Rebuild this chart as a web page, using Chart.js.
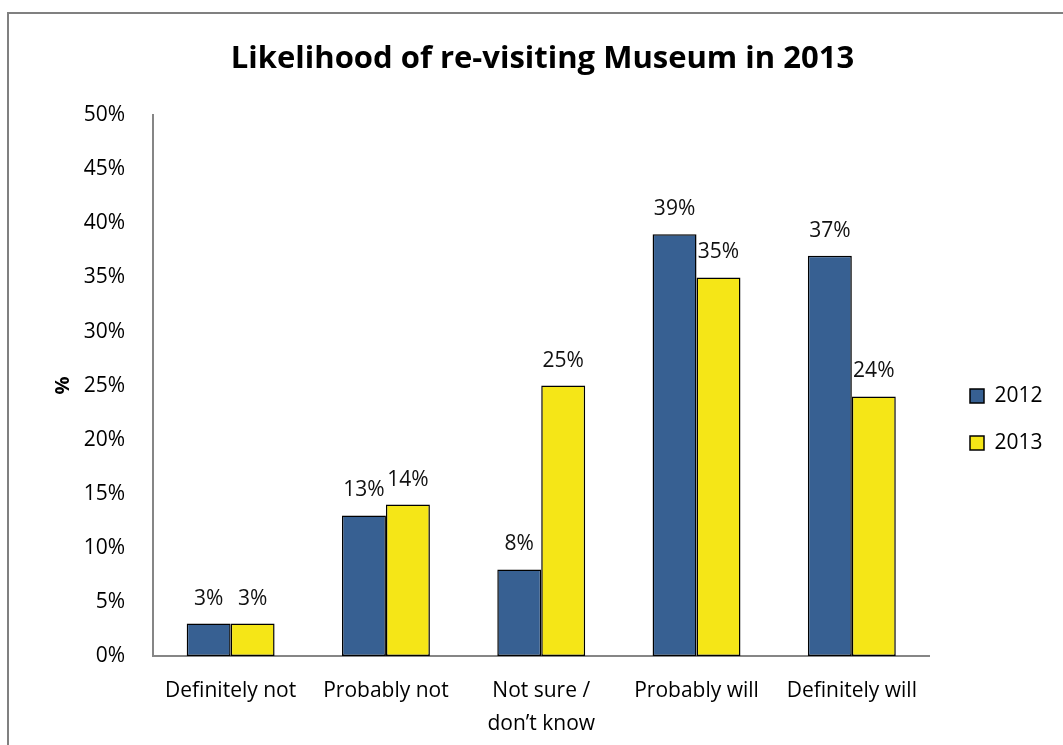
<!DOCTYPE html>
<html>
<head>
<meta charset="utf-8">
<script src="https://cdn.jsdelivr.net/npm/chart.js@4.4.1/dist/chart.umd.min.js"></script>
<style>
  body { margin: 0; background: #fff; }
  #wrap { position: relative; width: 1063px; height: 745px; overflow: hidden; }
  #frame { position: absolute; left: 7px; top: 12px; width: 1100px; height: 800px;
           border-top: 2px solid #808080; border-left: 2px solid #808080; }
  #chart { position: absolute; left: 0; top: 0; }
</style>
</head>
<body>
<div id="wrap">
  <div id="frame"></div>
  <canvas id="chart" width="1063" height="745"></canvas>
</div>
<script>
const CATEGORIES = ['Definitely not', 'Probably not', ['Not sure /', 'don\u2019t know'], 'Probably will', 'Definitely will'];
const SERIES_NAMES = ['2012', '2013'];
const VALUES_2012 = [3, 13, 8, 39, 37];
const VALUES_2013 = [3, 14, 25, 35, 24];
const Y_TICKS = [0, 5, 10, 15, 20, 25, 30, 35, 40, 45, 50];

const BLUE = '#376092';
const YELLOW = '#F5E617';
const AXIS_GREY = '#868686';
const FONT = '"Open Sans", Lato, sans-serif';

// percent labels sitting above each bar
const barLabels = {
    id: 'barLabels',
    afterDatasetsDraw(chart) {
        const ctx = chart.ctx;
        ctx.save();
        ctx.font = `21px ${FONT}`;
        ctx.fillStyle = '#111';
        ctx.textAlign = 'center';
        ctx.textBaseline = 'middle';
        chart.data.datasets.forEach((ds, i) => {
            chart.getDatasetMeta(i).data.forEach((bar, j) => {
                ctx.fillText(Math.round(ds.data[j]) + '%', bar.x, bar.y - 25);
            });
        });
        ctx.restore();
    }
};

// nudge the legend down beside the middle of the plot
const legendNudge = {
    id: 'legendNudge',
    afterLayout(chart) {
        const lg = chart.legend;
        const dx = 970 - 26 - lg.left;
        lg.left += dx; lg.right += dx;
        lg.top += 34; lg.bottom += 34;
    }
};

new Chart(document.getElementById('chart'), {
    type: 'bar',
    data: {
        labels: CATEGORIES,
        datasets: [
            { label: SERIES_NAMES[0], data: VALUES_2012, backgroundColor: BLUE, borderColor: '#000', borderWidth: 1.5, borderSkipped: false },
            { label: SERIES_NAMES[1], data: VALUES_2013, backgroundColor: YELLOW, borderColor: '#000', borderWidth: 1.5, borderSkipped: false }
        ]
    },
    options: {
        responsive: false,
        animation: false,
        datasets: { bar: { categoryPercentage: 0.566, barPercentage: 1 } },
        layout: { padding: { left: 47, right: 25, top: 0, bottom: 0 } },
        plugins: {
            title: {
                display: true,
                text: 'Likelihood of re-visiting Museum in 2013',
                color: '#000',
                font: { family: FONT, size: 31, weight: 'bold' },
                padding: { top: 41, bottom: 37 }
            },
            legend: {
                position: 'right',
                fullSize: false,
                labels: { color: '#000', font: { family: FONT, size: 21 }, boxWidth: 14, boxHeight: 14, padding: 26 }
            },
            tooltip: { enabled: false }
        },
        scales: {
            x: {
                grid: { display: false },
                border: { color: AXIS_GREY, width: 2 },
                ticks: { color: '#000', font: { family: FONT, size: 21, lineHeight: 1.55 }, padding: 11, maxRotation: 0, autoSkip: false },
                afterFit(scale) { scale.height = 89; }
            },
            y: {
                min: 0,
                max: 50,
                afterBuildTicks(scale) { scale.ticks = Y_TICKS.map(v => ({ value: v })); },
                grid: { display: false },
                border: { color: AXIS_GREY, width: 2 },
                ticks: { color: '#000', font: { family: FONT, size: 21 }, padding: 20, callback: v => v + '%' },
                title: { display: true, text: '%', color: '#000', font: { family: FONT, size: 20, weight: 'bold' } },
                afterFit(scale) { scale.width = 106; }
            }
        }
    },
    plugins: [barLabels, legendNudge]
});
</script>
</body>
</html>
